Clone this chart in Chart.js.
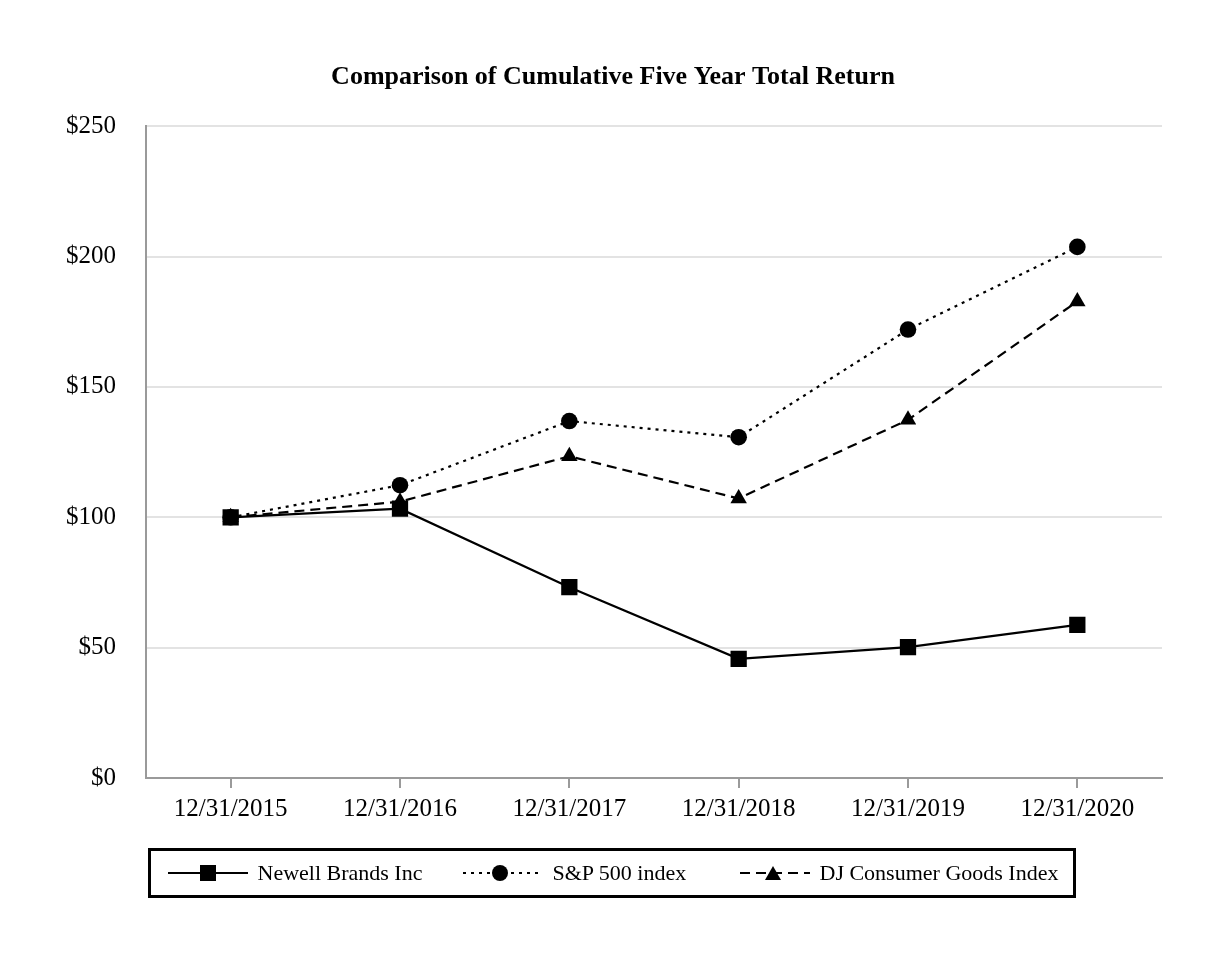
<!DOCTYPE html>
<html>
<head>
<meta charset="utf-8">
<script src="https://cdn.jsdelivr.net/npm/chart.js@4/dist/chart.umd.min.js"></script>
<style>
  html, body { margin: 0; padding: 0; background: #fff; }
  body { width: 1226px; height: 960px; position: relative; font-family: "Liberation Serif", "Times New Roman", serif; }
  #chart { position: absolute; left: 0; top: 0; }
  #legend { position: absolute; left: 148px; top: 848px; width: 928px; height: 50px; border: 3.5px solid #000; box-sizing: border-box; }
  .item { position: absolute; top: 0; height: 43px; display: flex; align-items: center; font-size: 22px; color: #000; }
  .item svg { margin-right: 10px; }
</style>
</head>
<body>
<canvas id="chart" width="1226" height="960"></canvas>
<div id="legend"></div>
<script>
// reading from the picture, dollars
var years = ["12/31/2015", "12/31/2016", "12/31/2017", "12/31/2018", "12/31/2019", "12/31/2020"];
var newell = [100, 103.3, 73.2, 45.7, 50.2, 58.7];
var sp500 = [100, 112.3, 136.9, 130.7, 172.0, 203.7];
var djConsumer = [100, 106, 123.4, 107.2, 137.4, 182.8];
var yTicks = [0, 50, 100, 150, 200, 250];

var serif = '"Liberation Serif", "Times New Roman", serif';

var series = [
    { label: "Newell Brands Inc", data: newell, point: "rect", radius: 11.5, dash: [] },
    { label: "S&P 500 index", data: sp500, point: "circle", radius: 8.3, dash: [3, 5] },
    { label: "DJ Consumer Goods Index", data: djConsumer, point: "triangle", radius: 9.5, dash: [10, 6] }
];

var ctx = document.getElementById("chart").getContext("2d");
var chart = new Chart(ctx, {
    type: "line",
    data: {
        labels: years,
        datasets: series.map(function(s) {
            return {
                label: s.label,
                data: s.data,
                borderColor: "#000",
                backgroundColor: "#000",
                borderWidth: 2.2,
                borderDash: s.dash,
                pointStyle: s.point,
                pointRadius: s.radius,
                pointHoverRadius: s.radius,
                pointBorderWidth: 0,
                tension: 0
            };
        })
    },
    options: {
        responsive: false,
        animation: false,
        layout: { padding: { top: 62, left: 64, right: 64, bottom: 130 } },
        plugins: {
            legend: { display: false },
            tooltip: { enabled: false },
            title: {
                display: true,
                text: "Comparison of Cumulative Five Year Total Return",
                color: "#000",
                font: { family: serif, size: 26, weight: "bold" },
                padding: { top: 0, bottom: 33 }
            }
        },
        scales: {
            x: {
                offset: true,
                border: { color: "#9a9a9a", width: 2 },
                grid: { display: true, drawOnChartArea: false, drawTicks: true, tickLength: 10, offset: false, color: "#9a9a9a", lineWidth: 2 },
                ticks: { color: "#000", font: { family: serif, size: 25 }, padding: 6, maxRotation: 0 }
            },
            y: {
                min: 0,
                max: 250,
                afterBuildTicks: function(axis) {
                    axis.ticks = yTicks.map(function(v) { return { value: v }; });
                },
                afterFit: function(axis) { axis.width = 82; },
                border: { color: "#9a9a9a", width: 2 },
                grid: { color: "#e3e3e3", lineWidth: 2, drawTicks: false },
                ticks: {
                    color: "#000",
                    font: { family: serif, size: 25 },
                    padding: 30,
                    callback: function(v) { return "$" + v; }
                }
            }
        }
    }
});

// legend boxes: line sample with marker, then text
var legendLeft = [168, 463, 740];
var legendDiv = document.getElementById("legend");
series.forEach(function(s, i) {
    var item = document.createElement("div");
    item.className = "item";
    item.style.left = (legendLeft[i] - 151.5) + "px";
    var dash = s.dash.length ? ' stroke-dasharray="' + s.dash.join(" ") + '"' : "";
    var mark;
    if (s.point === "rect") mark = '<rect x="32" y="2" width="16" height="16" fill="#000"/>';
    else if (s.point === "circle") mark = '<circle cx="37" cy="10" r="8" fill="#000"/>';
    else mark = '<polygon points="33,3 41,17 25,17" fill="#000"/>';
    var w = s.point === "triangle" ? 70 : 80;
    item.innerHTML = '<svg width="' + w + '" height="20"><line x1="0" y1="10" x2="' + w + '" y2="10" stroke="#000" stroke-width="2"' + dash + '/>' + mark + '</svg><span>' + s.label + '</span>';
    legendDiv.appendChild(item);
});
</script>
</body>
</html>
